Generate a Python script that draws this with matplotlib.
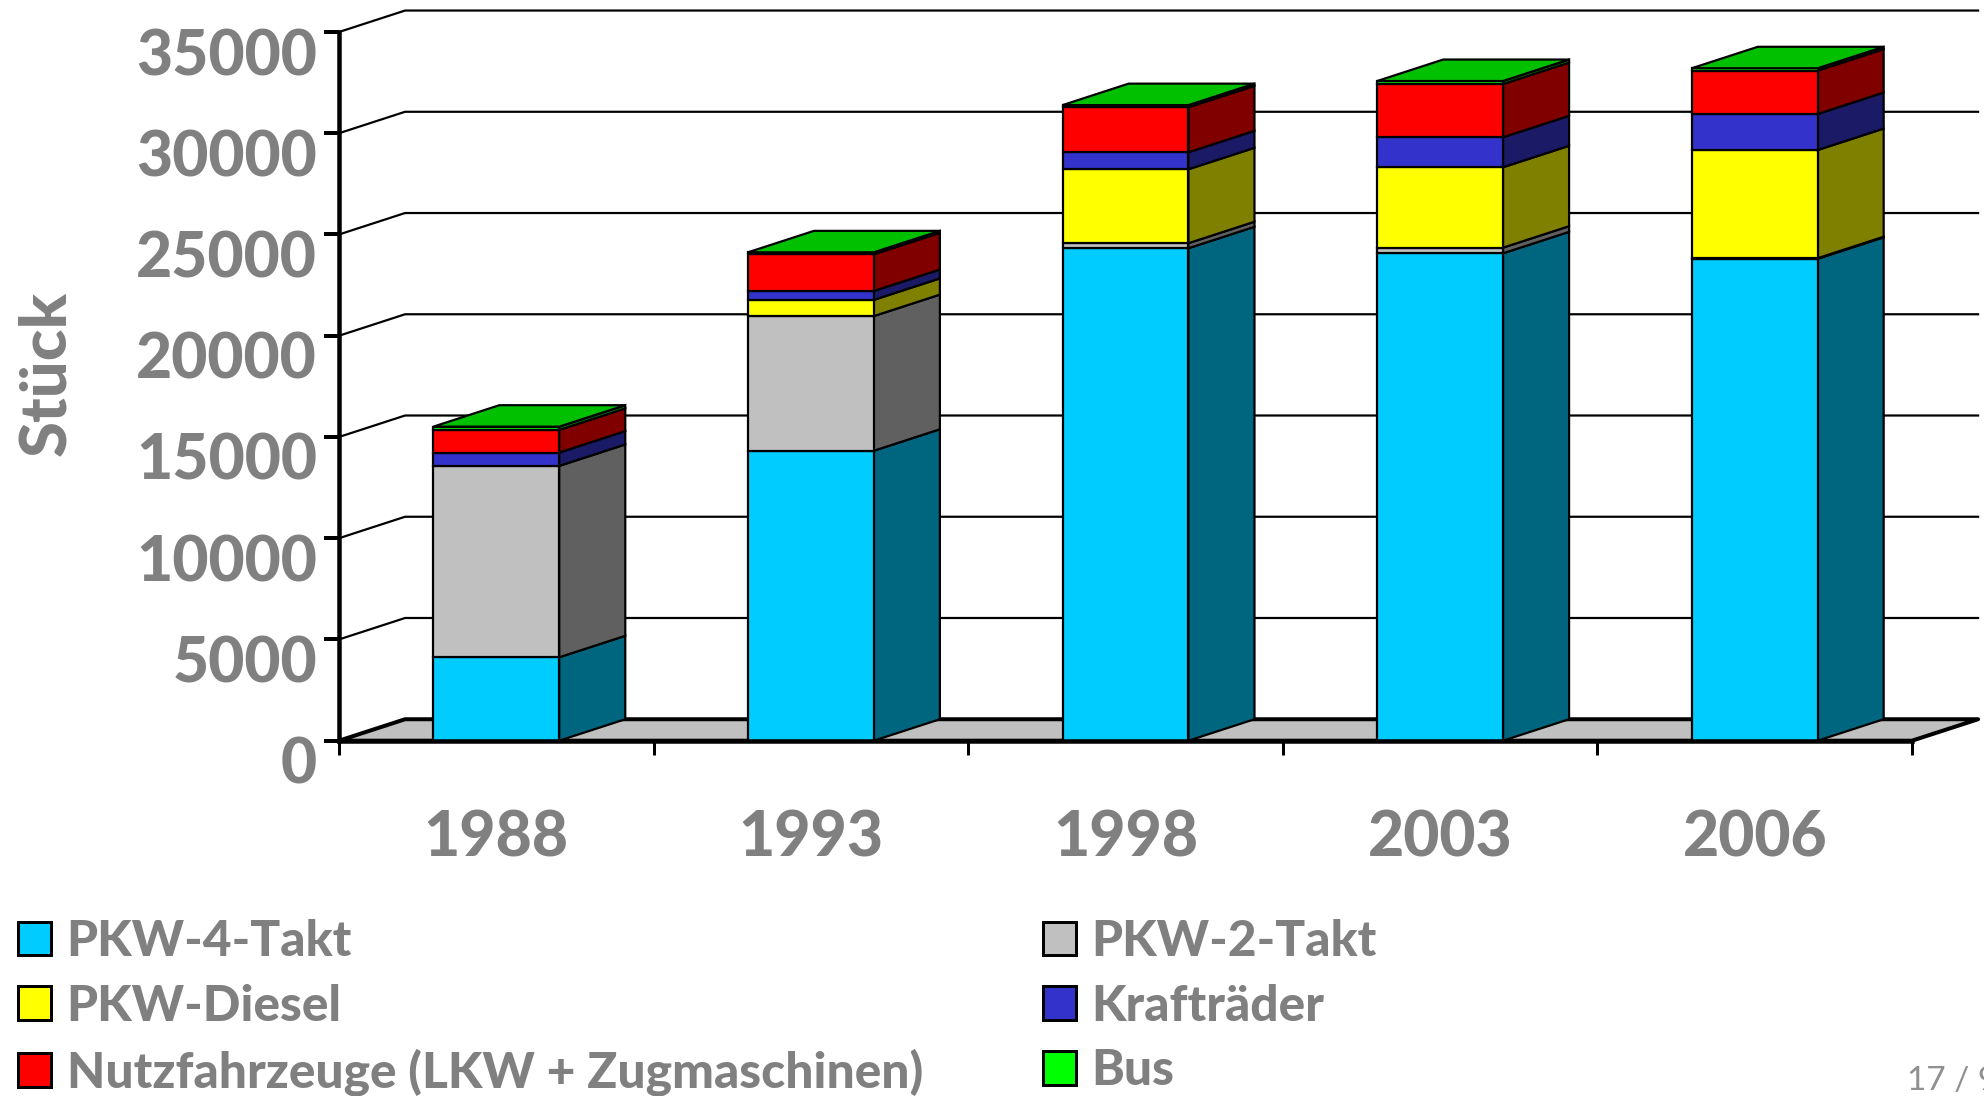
import matplotlib
matplotlib.use("Agg")
import matplotlib.pyplot as plt
from matplotlib.patches import Polygon, Patch
from matplotlib.transforms import ScaledTranslation

plt.rcParams["font.family"] = ["Lato", "DejaVu Sans"]

years = ["1988", "1993", "1998", "2003", "2006"]
y_ticks = [0, 5000, 10000, 15000, 20000, 25000, 30000, 35000]

pkw_4takt = [4120, 14320, 24320, 24070, 23800]
pkw_2takt = [9450, 6650, 250, 280, 30]
pkw_diesel = [0, 800, 3650, 3970, 5340]
kraftraeder = [660, 440, 840, 1480, 1780]
nutzfahrzeuge = [1120, 1810, 2220, 2630, 2140]
bus = [160, 100, 110, 150, 120]

# front, side, top colour per series
series = [
    ("PKW-4-Takt", pkw_4takt, "#00CCFF", "#006680"),
    ("PKW-2-Takt", pkw_2takt, "#C0C0C0", "#606060"),
    ("PKW-Diesel", pkw_diesel, "#FFFF00", "#808000"),
    ("Krafträder", kraftraeder, "#3333CC", "#1A1A66"),
    ("Nutzfahrzeuge (LKW + Zugmaschinen)", nutzfahrzeuge, "#FF0000", "#800000"),
    ("Bus", bus, "#00FF00", "#008000"),
]
bus_top = "#00C000"

W, H = 1984, 1096
grey = "#808080"
px = 72 / 100  # one pixel in points

fig = plt.figure(figsize=(W / 100, H / 100), dpi=100)
ax = fig.add_axes([339 / W, (H - 740.7) / H, 1573 / W, 708.7 / H])
ax.set_xlim(0, len(years))
ax.set_ylim(0, 35000)
ax.patch.set_visible(False)

# fake 3d depth in data units
dx = 0.21
dy = 1060
bar_w = 0.4
n = len(years)

# floor
ax.add_patch(Polygon([(0, 0), (n, 0), (n + dx, dy), (dx, dy)], closed=True,
                     facecolor="#C0C0C0", edgecolor="black", lw=4 * px,
                     joinstyle="round", clip_on=False, zorder=1))

# grid on the back wall
for v in y_ticks[1:]:
    ax.plot([0, dx, n + dx], [v, v + dy, v + dy], color="black", lw=2.2 * px,
            clip_on=False, zorder=1)

# stacked bars
for i in range(n):
    left = i + 0.5 - bar_w / 2
    right = left + bar_w
    base = 0
    for name, values, front, side in series:
        v = values[i]
        if v == 0:
            continue
        top = base + v
        ax.add_patch(Polygon([(right, base), (right + dx, base + dy),
                              (right + dx, top + dy), (right, top)], closed=True,
                             facecolor=side, edgecolor="black", lw=2.2 * px,
                             clip_on=False, zorder=3))
        ax.bar(i + 0.5, v, bar_w, bottom=base, color=front, edgecolor="black",
               linewidth=2.2 * px, clip_on=False, zorder=3)
        base = top
    ax.add_patch(Polygon([(left, base), (right, base), (right + dx, base + dy),
                          (left + dx, base + dy)], closed=True,
                         facecolor=bus_top, edgecolor="black", lw=2.2 * px,
                         clip_on=False, zorder=3))

# axes
for s in ["top", "right"]:
    ax.spines[s].set_visible(False)
ax.spines["left"].set_linewidth(4.5 * px)
ax.spines["bottom"].set_linewidth(4.5 * px)
ax.spines["left"].set_zorder(5)
ax.spines["bottom"].set_zorder(5)

ax.set_yticks(y_ticks)
ax.set_yticklabels([str(v) for v in y_ticks], fontsize=45, fontweight="black", color=grey, va="top")
ax.tick_params(axis="y", length=15 * px, width=4 * px, pad=7 * px)
shift_up = ScaledTranslation(0, 4 / 100, fig.dpi_scale_trans)
for lab in ax.get_yticklabels():
    lab.set_transform(lab.get_transform() + shift_up)

ax.set_xticks(range(n + 1))
ax.set_xticklabels([])
ax.tick_params(axis="x", which="major", length=14 * px, width=3 * px)
ax.set_xticks([i + 0.5 for i in range(n)], minor=True)
ax.set_xticklabels(years, minor=True, fontsize=45, fontweight="black", color=grey)
ax.tick_params(axis="x", which="minor", length=0, pad=69 * px)

ax.set_ylabel("Stück", fontsize=47, fontweight="black", color=grey)
ax.yaxis.set_label_coords((76 - 339) / 1573, (740.7 - 373) / 708.7)

# legend, filled column by column
order = [0, 2, 4, 1, 3, 5]
handles = [Patch(facecolor=series[k][2], edgecolor="black", linewidth=3 * px) for k in order]
labels = [series[k][0] for k in order]
fig.legend(handles, labels, ncols=2, loc="lower left", bbox_to_anchor=(13 / W, -5 / H),
           frameon=False, prop={"size": 35.7, "weight": "black"}, labelcolor=grey,
           handlelength=0.66, handleheight=0.66, handletextpad=0.32,
           labelspacing=0.4, columnspacing=2.42, borderpad=0.1, borderaxespad=0)

# slide number, cut by the page edge
fig.text(1907 / W, (H - 1090) / H, "17 / 9", fontsize=24, color="#909090")

fig.savefig("out.png", dpi=100)
